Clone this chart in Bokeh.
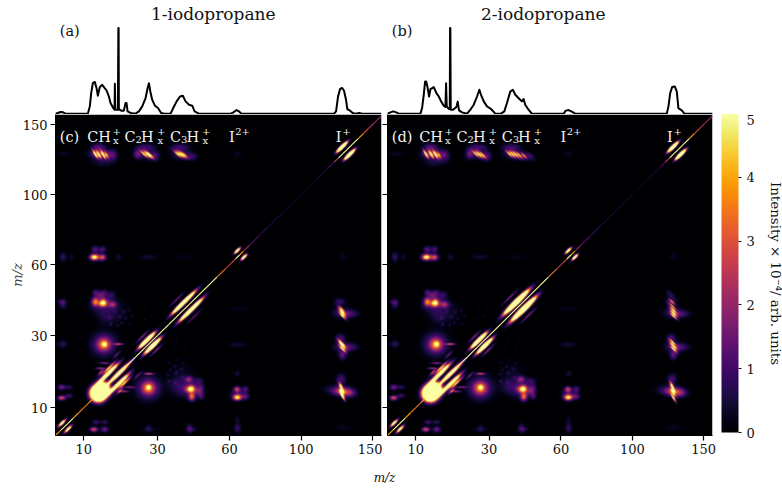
import numpy as np
from bokeh.embed import file_html
from bokeh.resources import INLINE
from bokeh.layouts import column, row
from bokeh.models import (ColorBar, ColumnDataSource, CustomJSTickFormatter, FixedTicker, Label,
                          LinearColorMapper, Range1d)
from bokeh.palettes import Inferno256
from bokeh.plotting import figure

SERIF = "DejaVu Serif"
tick_mz = [10, 30, 60, 100, 150]
cbar_ticks = [0, 1, 2, 3, 4, 5]

# Ion-yield spectra (a) and (b): m/z, intensity (% of the tallest peak)
spec_a_mz = [5.15, 5.49, 5.89, 6.31, 6.68, 7.52, 10.81, 11.23, 11.51, 11.87, 12.31, 12.68, 12.98, 13.44,
             13.99, 14.54, 15.03, 15.6, 16.02, 16.7, 17.04, 17.13, 17.22, 17.39, 17.92, 18.05, 18.12, 18.19,
             18.37, 18.82, 19.55, 20.02, 20.3, 20.6, 21.46, 22.94, 23.96, 25.0, 26.06, 26.7, 27.15, 27.6,
             28.25, 29.15, 30.2, 31.3, 32.5, 34.7, 35.7, 37.0, 38.3, 39.4, 40.5, 41.9, 43.2, 44.2, 46.0,
             60.6, 61.9, 63.5, 64.9, 65.9, 121.8, 123.2, 124.6, 126.0, 127.4, 128.8, 130.3, 131.2, 133.2,
             135.1, 137.3, 139.8, 142.3, 156.9]
spec_a_int = [0, 0.8, 1.9, 1.5, 0, 0, 0, 8.5, 24, 35.5, 37, 30, 21, 31, 33.6, 30, 27, 20, 12.4, 6.5, 4.6,
              35, 4.6, 4.6, 4.6, 100, 100, 4.6, 4.6, 3.5, 3.5, 12.4, 12.4, 2.7, 0.8, 0, 2.7, 8.5, 18, 29.7,
              35.5, 26, 16, 9.3, 6.5, 0.8, 0, 0, 6.5, 14.3, 20, 20.8, 14.3, 10.4, 9.3, 2.7, 0, 0, 1.5, 4.2,
              2.3, 0, 0, 2.7, 20, 28.6, 30, 27, 16, 5.4, 3.5, 0.8, 0, 0.8, 0, 0]
spec_b_mz = [5.15, 5.59, 6.0, 6.47, 6.9, 10.96, 11.3, 11.66, 11.95, 12.17, 12.46, 12.84, 13.15, 13.53, 13.92,
             14.55, 15.12, 15.7, 16.37, 16.8, 16.97, 17.14, 17.67, 17.95, 18.02, 18.1, 18.2, 18.84, 19.76,
             20.13, 20.5, 21.38, 22.86, 23.88, 24.92, 25.98, 26.73, 27.28, 28.17, 29.29, 30.67, 32.2, 34.26,
             35.5, 36.5, 37.8, 38.8, 39.75, 41.1, 42.4, 43.1, 43.8, 45.2, 46.6, 61.3, 62.4, 63.8, 65.4, 67.2,
             122.9, 124.1, 125.3, 126.7, 128.6, 130.0, 131.2, 133.6, 135.6, 157.2]
spec_b_int = [0, 1.5, 2.7, 1.5, 0, 0, 6.5, 22, 37.5, 37.5, 31.6, 20, 28.6, 29.7, 31, 24, 20, 14.3, 9.3, 7.7,
              35.5, 8.5, 5.4, 5.4, 100, 100, 4.6, 4.6, 7.7, 14, 3.9, 1.5, 0, 4.6, 10.4, 20, 27.8, 22, 14.3,
              8.5, 5.4, 0, 0, 2.7, 12.4, 26, 27.8, 22, 18, 14.3, 17, 10.4, 4.6, 0, 0, 3.5, 4.2, 2.3, 0, 0,
              8.5, 24, 31, 31.6, 26, 6.5, 3.9, 0, 0]

# Main diagonal (autocorrelation line): segment edges in m/z and the intensity of each segment
diag_edges = [5, 6, 7, 8, 9, 10, 11, 12, 14, 17, 20, 23, 26, 30, 34, 38, 42, 46, 50, 54, 58, 61, 63, 65, 67,
              70, 75, 80, 90, 100, 110, 118, 122, 125, 128, 131, 135, 139, 143, 147, 151, 157]
diag_vals = [4, 5, 5, 4, 3.5, 3.5, 4, 6, 9, 8, 6, 6, 7, 7, 7, 7, 7, 6, 5, 3.5, 2.5, 3, 5.5, 4, 2, 1.2, 0.8,
             0.5, 0.4, 0.3, 0.5, 1.0, 2.5, 5, 6, 6, 5, 4, 3, 2.5, 2]

# Coincidence features: m/z x, m/z y, width along, width across (in sqrt(m/z)), angle (deg), peak intensity.
# Each off-diagonal feature also appears mirrored across the diagonal.
common_blobs = [
    # I2+ and I+ self-coincidence bars
    (127.7, 133.2, .13, .03, 45, 20), (63.9, 67.3, .08, .027, 45, 10),
    # C2Hx+ self-coincidence stripes
    (26.4, 28.3, .2, .036, 45, 18), (25.0, 29.6, .17, .02, 45, 2.2),
    # CHx+ saturated cluster and fingers
    (13, 13, .133, .133, 0, 30), (14.2, 14.2, .12, .14, 45, 12), (18, 18, .3, .04, 45, 10),
    (15.2, 17.9, .27, .036, 45, 14), (13.6, 18.4, .09, .025, 45, 3), (15.5, 19.6, .18, .024, 45, 5),
    (13.5, 19.5, .1, .02, 0, 2.5), (14.5, 21, .12, .02, 0, 2), (17.5, 23.5, .1, .02, 45, 1.6),
    (6.06, 7.05, .1, .028, 45, 8),
    # CHx+ with C2Hx+
    (14.3, 26.9, .25, .24, 0, 1.7), (14.3, 26.9, .12, .12, 0, 2.6), (14.5, 27, .04, .04, 0, 3.5), (18, 27, .1, .02, 0, 3),
    # CHx+ with C3Hx+
    (14, 42.3, .09, .07, 0, 3.5), (16.5, 41.8, .09, .07, 0, 1.8), (13.5, 46, .1, .09, 0, 1.4),
    (16, 46, .1, .08, 0, .8), (15, 37, .2, .18, 0, .55), (18, 39, .25, .25, 0, .3), (14.5, 43, .2, .12, 0, .8),
    (6.2, 42, .07, .1, 0, .9), (6.2, 27, .07, .1, 0, .5),
    (12, 6, .08, .05, 0, 3), (14.5, 6, .08, .06, 0, 1.6), (12.5, 7.2, .08, .05, 0, 1), (14.5, 7.2, .08, .05, 0, .8),
    (43, 12.3, .07, .09, 0, 3.2), (43, 14.2, .06, .07, 0, 1.8), (47, 12.3, .06, .07, 0, 1), (47, 14.5, .06, .07, 0, .6),
    (41, 13.5, .25, .17, 0, .6), (43, 6, .1, .05, 0, .7), (27, 6, .2, .05, 0, .35),
    # Sparse dim coincidences
    (16, 34, .03, .03, 0, .7), (17.8, 33.6, .03, .03, 0, .6), (19, 34.5, .03, .03, 0, .5), (21.2, 34, .03, .03, 0, .45),
    (15.7, 36.5, .03, .03, 0, .7), (18.3, 36.9, .03, .03, 0, .7), (20, 36.2, .03, .03, 0, .5), (22, 37.2, .03, .03, 0, .4),
    (17, 39.2, .03, .03, 0, .6), (19.4, 38.8, .03, .03, 0, .5), (21, 39.7, .03, .03, 0, .4),
    (26, 36, .03, .03, 0, .4), (28, 37, .03, .03, 0, .4), (26, 40, .03, .03, 0, .4), (29, 41, .03, .03, 0, .35),
    # I2+ column
    (12.1, 63.9, .09, .06, 0, 5), (14, 63.8, .07, .06, 0, 2.6), (12.3, 68, .08, .07, 0, 1.3), (14, 68, .07, .07, 0, 1.2),
    (13, 64, .16, .09, 0, .8),
    (6.2, 64, .07, .1, 0, .9), (7.6, 64, .06, .08, 0, .4), (26.8, 64, .2, .06, 0, .45), (40, 64, .25, .06, 0, .25),
    (18, 64, .07, .07, 0, .5), (64, 128, .1, .1, 0, .3), (6.3, 128, .2, .07, 0, .3),
    # I+ row, dim surroundings
    (13, 133, .15, .09, 0, 1.2), (16.5, 127, .1, .12, 0, 1.1), (14, 122, .25, .1, 0, .5), (13.5, 128, .2, .09, 0, 2.5),
    (23.5, 128, .08, .1, 0, 1.4), (29, 126.5, .1, .1, 0, 1.1), (26, 133, .2, .08, 0, .9), (26, 128, .2, .12, 0, .8),
    (38, 133, .2, .08, 0, .9), (43, 126, .12, .08, 0, .9), (38.5, 128, .22, .12, 0, .8),
]
a_blobs = [
    (39.7, 42.7, .28, .034, 45, 20), (37, 44, .2, .02, 45, 1.6),
    (12.3, 128, .1, .02, -60, 6), (13.1, 127.6, .1, .02, -60, 5), (14.2, 127.3, .1, .02, -60, 6), (15, 127, .08, .02, -60, 3.5),
    (25.5, 127.9, .1, .018, -45, 6), (26.6, 127.7, .1, .018, -45, 7), (27.4, 127.5, .1, .018, -45, 6),
    (37.2, 128, .1, .018, -45, 5), (38.3, 127.8, .1, .018, -45, 6), (39.3, 127.6, .1, .018, -45, 5), (40.2, 127.4, .09, .018, -45, 3.5),
]
b_blobs = [
    (40.0, 42.9, .3, .045, 45, 22), (37.5, 45, .22, .02, 45, 2),
    (12, 128, .1, .02, -60, 6), (13.2, 127.7, .1, .02, -60, 5), (14.3, 127.4, .1, .02, -60, 6), (15.1, 127, .08, .02, -60, 3.5),
    (25.4, 128, .1, .018, -45, 5), (26.5, 127.8, .1, .018, -45, 7), (27.6, 127.5, .1, .018, -45, 5),
    (37.2, 128, .1, .018, -45, 5), (38.4, 127.9, .1, .018, -45, 6), (39.7, 127.7, .1, .018, -45, 6),
    (41.1, 127.4, .1, .018, -45, 4.5), (43, 127, .09, .018, -45, 3.5), (46, 126, .12, .06, -45, .8),
]

S_MIN_X, S_MAX_X = 2.27, 12.53
S_MIN_Y, S_MAX_Y = 2.27, 12.57
mapper = LinearColorMapper(palette=Inferno256, low=0, high=5)


def raster(blobs, nx=326, ny=321):
    sx = np.linspace(S_MIN_X, S_MAX_X, nx)
    sy = np.linspace(S_MIN_Y, S_MAX_Y, ny)
    X, Y = np.meshgrid(sx, sy)
    img = np.zeros_like(X)
    for mx, my, su, sv, ang, val in blobs:
        pairs = [(mx, my)] if mx == my else [(mx, my), (my, mx)]
        for a, b in pairs:
            t = np.deg2rad(ang)
            dx, dy = X - np.sqrt(a), Y - np.sqrt(b)
            u = dx * np.cos(t) + dy * np.sin(t)
            v = -dx * np.sin(t) + dy * np.cos(t)
            img += val * np.exp(-(u ** 2 / (2 * su ** 2) + v ** 2 / (2 * sv ** 2)))
    return img


sq_fmt = CustomJSTickFormatter(code="return String(Math.round(tick*tick));")
blank_fmt = CustomJSTickFormatter(code='return "";')
sq_ticks = [float(np.sqrt(t)) for t in tick_mz]


def style_axis(ax, labels=True):
    ax.ticker = FixedTicker(ticks=sq_ticks)
    ax.formatter = sq_fmt if labels else blank_fmt
    ax.major_tick_out = 5
    ax.major_tick_in = 0
    ax.major_tick_line_width = 1.2
    ax.axis_line_width = 1
    ax.major_label_text_font = SERIF
    ax.major_label_text_font_size = "13px"
    ax.major_label_text_color = "#111111"
    ax.major_label_standoff = 3 if labels else 0


def heat(blobs, left, fw, right, left_labels):
    p = figure(x_range=Range1d(S_MIN_X, S_MAX_X), y_range=Range1d(S_MIN_Y, S_MAX_Y),
               frame_width=fw, frame_height=321, min_border_left=left, min_border_right=right,
               min_border_top=0, min_border_bottom=35, toolbar_location=None, output_backend="svg",
               background_fill_color=None, border_fill_color=None)
    p.grid.visible = False
    p.outline_line_color = None
    style_axis(p.xaxis[0])
    style_axis(p.yaxis[0], left_labels)
    p.image(image=[raster(blobs)], x=S_MIN_X, y=S_MIN_Y, dw=S_MAX_X - S_MIN_X, dh=S_MAX_Y - S_MIN_Y,
            color_mapper=mapper)
    d = np.sqrt(np.array(diag_edges, dtype=float))
    src = ColumnDataSource(dict(x0=d[:-1], x1=d[1:], v=diag_vals))
    p.segment(x0="x0", y0="x0", x1="x1", y1="x1", source=src, line_width=1.1,
              line_color={"field": "v", "transform": mapper})
    return p


def put(p, fx, fy, x, y, text, size, color="#f2f2f2", **kw):
    """Place a text at canvas pixel (x, y, baseline) using the figure's data scale."""
    p.add_layout(Label(x=fx(x), y=fy(y), text=text, text_font=SERIF, text_font_size=f"{size}px",
                       text_color=color, text_baseline=kw.pop("baseline", "alphabetic"), **kw))


fx_l = lambda x: S_MIN_X + (x - 55) / 31.75
fx_r = lambda x: S_MIN_X + (x - 387) / 31.72
fy_h = lambda y: S_MIN_Y + (435 - y) / 31.18

heat_l = heat(common_blobs + a_blobs, 55, 326, 1, True)
heat_r = heat(common_blobs + b_blobs, 5, 325, 53, False)
heat_l.yaxis[0].axis_label = "m/z"
heat_l.yaxis[0].axis_label_text_font = SERIF
heat_l.yaxis[0].axis_label_text_font_style = "italic"
heat_l.yaxis[0].axis_label_text_font_size = "13px"
heat_l.yaxis[0].axis_label_standoff = -5

for p, fx, dx, tag in ((heat_l, fx_l, 0, "(c)"), (heat_r, fx_r, 332, "(d)")):
    b = 136
    put(p, fx, fy_h, 59.3 + dx, b, tag, 14.5)
    # CHx+
    put(p, fx, fy_h, 86.7 + dx, b, "CH", 14.5)
    put(p, fx, fy_h, 112 + dx, 131, "+", 10)
    put(p, fx, fy_h, 112.5 + dx, 140, "x", 10)
    # C2Hx+
    put(p, fx, fy_h, 124 + dx, b, "C", 14.5)
    put(p, fx, fy_h, 135 + dx, 139, "2", 10)
    put(p, fx, fy_h, 140.5 + dx, b, "H", 14.5)
    put(p, fx, fy_h, 156.5 + dx, 131, "+", 10)
    put(p, fx, fy_h, 157 + dx, 140, "x", 10)
    # C3Hx+
    put(p, fx, fy_h, 169.3 + dx, b, "C", 14.5)
    put(p, fx, fy_h, 180.3 + dx, 139, "3", 10)
    put(p, fx, fy_h, 185.8 + dx, b, "H", 14.5)
    put(p, fx, fy_h, 201.5 + dx, 131, "+", 10)
    put(p, fx, fy_h, 202 + dx, 140, "x", 10)
    # I2+, I+
    put(p, fx, fy_h, 228.3 + dx, b, "I", 14.5)
    put(p, fx, fy_h, 234.5 + dx, 131, "2+", 10)
    put(p, fx, fy_h, 335 + dx, b, "I", 14.5)
    put(p, fx, fy_h, 341.5 + dx, 131, "+", 10)

cb = ColorBar(color_mapper=mapper, ticker=FixedTicker(ticks=cbar_ticks), width=17, height=319, padding=0,
              margin=0, major_tick_in=0, major_tick_out=3, major_tick_line_color="#111111",
              bar_line_color=None, major_label_text_font=SERIF, major_label_text_font_size="13px",
              major_label_text_color="#111111", label_standoff=5, location=(9, 3))
heat_r.add_layout(cb, "right")

# Narrow strip that carries the colour bar's rotated caption
cap = figure(x_range=Range1d(0, 17), y_range=Range1d(0, 356), frame_width=17, frame_height=356, min_border=0,
             toolbar_location=None, output_backend="svg", x_axis_location=None, y_axis_location=None,
             border_fill_color=None)
cap.grid.visible = False
cap.outline_line_color = None
cap.add_layout(Label(x=10, y=197, text="Intensity × 10⁻⁴/ arb. units", text_font=SERIF, text_font_size="13.4px",
                     text_color="#111111", angle=-np.pi / 2, text_align="center", text_baseline="middle"))


def spectrum(mz, inten, left, fw, right, title, title_x, tag):
    p = figure(x_range=Range1d(S_MIN_X, S_MAX_X), y_range=Range1d(-1, 132),
               frame_width=fw, frame_height=114, min_border_left=left, min_border_right=right,
               min_border_top=0, min_border_bottom=0, toolbar_location=None, output_backend="svg",
               x_axis_location=None, y_axis_location=None, border_fill_color=None)
    p.grid.visible = False
    p.outline_line_color = None
    p.line(np.sqrt(np.array(mz, dtype=float)), inten, line_color="black", line_width=2,
           line_join="round")
    fy = lambda y: -1 + (114 - y) * 133 / 114
    fx = fx_l if left == 55 else fx_r
    put(p, fx, fy, title_x, 13.5, title, 17, color="#111111", text_align="center")
    put(p, fx, fy, (59.3 if left == 55 else 391.3), 30, tag, 14.5, color="#111111")
    return p


top_l = spectrum(spec_a_mz, spec_a_int, 55, 326, 1, "1-iodopropane", 212.7, "(a)")
top_r = spectrum(spec_b_mz, spec_b_int, 5, 325, 70, "2-iodopropane", 543, "(b)")

foot = figure(x_range=Range1d(0, 782), y_range=Range1d(0, 18), frame_width=782, frame_height=18,
              min_border=0, toolbar_location=None, output_backend="svg", x_axis_location=None,
              y_axis_location=None, border_fill_color=None)
foot.grid.visible = False
foot.outline_line_color = None
foot.add_layout(Label(x=384, y=4, text="m/z", text_font=SERIF, text_font_style="italic",
                      text_font_size="12px", text_color="#111111", text_align="center"))

root = column(row(top_l, top_r, spacing=0), row(heat_l, heat_r, cap, spacing=0), foot, spacing=0,
              styles={"position": "absolute", "left": "0px", "top": "0px"})
open("out.html", "w").write(file_html(root, INLINE))
